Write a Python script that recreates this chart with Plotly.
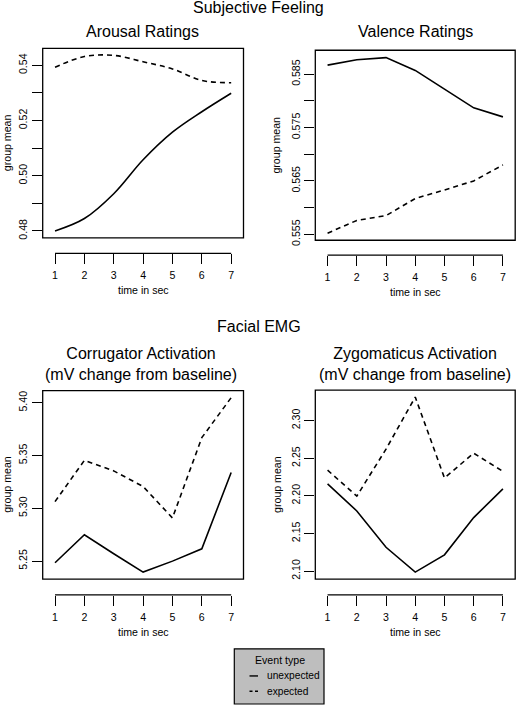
import plotly.graph_objects as go

W, H = 517, 711

# ---------------- data ----------------
time_sec = [1, 2, 3, 4, 5, 6, 7]

arousal_unexpected = [0.4800, 0.4845, 0.4935, 0.5058, 0.5158, 0.5232, 0.5299]
arousal_expected = [0.5393, 0.5432, 0.5436, 0.5413, 0.5387, 0.5345, 0.5337]

valence_unexpected = [0.5867, 0.5877, 0.5881, 0.5857, 0.5822, 0.5787, 0.5770]
valence_expected = [0.5552, 0.5576, 0.5585, 0.5617, 0.5633, 0.5650, 0.5680]

corrugator_unexpected = [5.2485, 5.2750, 5.2570, 5.2396, 5.2500, 5.2617, 5.3340]
corrugator_expected = [5.3064, 5.3455, 5.3355, 5.3207, 5.2909, 5.3670, 5.4049]

zygomaticus_unexpected = [2.2158, 2.1799, 2.1316, 2.0987, 2.1216, 2.1711, 2.2092]
zygomaticus_expected = [2.2340, 2.1996, 2.2620, 2.3312, 2.2237, 2.2566, 2.2325]

arousal_ticks = [0.48, 0.49, 0.50, 0.51, 0.52, 0.53, 0.54]
arousal_ticktext = ["0.48", "", "0.50", "", "0.52", "", "0.54"]
valence_ticks = [0.555, 0.560, 0.565, 0.570, 0.575, 0.580, 0.585]
valence_ticktext = ["0.555", "", "0.565", "", "0.575", "", "0.585"]
corrugator_ticks = [5.25, 5.30, 5.35, 5.40]
corrugator_ticktext = ["5.25", "5.30", "5.35", "5.40"]
zygomaticus_ticks = [2.10, 2.15, 2.20, 2.25, 2.30]
zygomaticus_ticktext = ["2.10", "2.15", "2.20", "2.25", "2.30"]

group_labels = ["unexpected", "expected"]

FONT = "Liberation Sans, Arial, Helvetica, sans-serif"
SMALL = 10.6
BIG = 16


def px(x):
    return x / W


def py(y):
    return 1 - y / H


# panel boxes in pixels: (left, right, top, bottom), x-axis-line y
panels = [
    dict(box=(42.7, 243.5, 48.8, 240.0), axis_y=255.5, yr=[0.47746, 0.54614],
         ticks=arousal_ticks, ticktext=arousal_ticktext,
         u=arousal_unexpected, e=arousal_expected, shape="spline"),
    dict(box=(315.3, 515.2, 50.7, 242.3), axis_y=257.3, yr=[0.55388, 0.58948],
         ticks=valence_ticks, ticktext=valence_ticktext,
         u=valence_unexpected, e=valence_expected, shape="linear"),
    dict(box=(42.7, 243.5, 394.0, 584.0), axis_y=600.0, yr=[5.2330, 5.4115],
         ticks=corrugator_ticks, ticktext=corrugator_ticktext,
         u=corrugator_unexpected, e=corrugator_expected, shape="linear"),
    dict(box=(315.3, 515.2, 393.5, 584.0), axis_y=600.0, yr=[2.0894, 2.3403],
         ticks=zygomaticus_ticks, ticktext=zygomaticus_ticktext,
         u=zygomaticus_unexpected, e=zygomaticus_expected, shape="linear"),
]

XR = [0.58, 7.42]

fig = go.Figure()
shapes = []
annotations = []

for i, p in enumerate(panels):
    n = "" if i == 0 else str(i + 1)
    xa, ya = "x" + n, "y" + n
    l, r, t, b = p["box"]
    fig.add_trace(go.Scatter(x=time_sec, y=p["u"], mode="lines", xaxis=xa, yaxis=ya,
                             name=group_labels[0], showlegend=False,
                             line=dict(color="black", width=1.6, shape=p["shape"])))
    fig.add_trace(go.Scatter(x=time_sec, y=p["e"], mode="lines", xaxis=xa, yaxis=ya,
                             name=group_labels[1], showlegend=False,
                             line=dict(color="black", width=1.6, dash="5px,4px",
                                       shape=p["shape"])))
    fig.layout["xaxis" + n] = dict(
        domain=[px(l), px(r)], range=XR, anchor="free", position=py(p["axis_y"]),
        showgrid=False, zeroline=False, showline=False,
        tickmode="array", tickvals=time_sec, ticktext=[str(v) for v in time_sec],
        ticks="outside", ticklen=10, tickwidth=1.2, tickcolor="black",
        ticklabelstandoff=2,
        tickfont=dict(family=FONT, size=SMALL, color="black"),
    )
    fig.layout["yaxis" + n] = dict(
        domain=[py(b), py(t)], range=p["yr"], anchor=xa,
        showgrid=False, zeroline=False, showline=False,
        tickmode="array", tickvals=p["ticks"], ticktext=p["ticktext"],
        ticks="outside", ticklen=10, tickwidth=1.2, tickcolor="black",
        tickangle=-90, tickfont=dict(family=FONT, size=SMALL, color="black"),
    )
    # box
    shapes.append(dict(type="rect", xref=xa + " domain", yref=ya + " domain",
                       x0=0, x1=1, y0=0, y1=1, line=dict(color="black", width=1.3)))
    # separate x axis line from 1 to 7
    shapes.append(dict(type="line", xref=xa, yref="paper", x0=time_sec[0], x1=time_sec[-1],
                       y0=py(p["axis_y"]), y1=py(p["axis_y"]),
                       line=dict(color="black", width=1.2)))
    # axis titles
    annotations.append(dict(text="time in sec", x=px((l + r) / 2), y=py(p["axis_y"] + 37),
                            xref="paper", yref="paper", showarrow=False,
                            xanchor="center", yanchor="middle",
                            font=dict(family=FONT, size=SMALL, color="black")))
    annotations.append(dict(text="group mean", x=px(max(l - 39, 7.0)), y=py((t + b) / 2),
                            xref="paper", yref="paper", showarrow=False, textangle=-90,
                            xanchor="center", yanchor="middle",
                            font=dict(family=FONT, size=SMALL, color="black")))

# titles
titles = [
    ("Subjective Feeling", 258.5, 8),
    ("Arousal Ratings", 142.5, 32),
    ("Valence Ratings", 415.3, 32),
    ("Facial EMG", 258.5, 329),
    ("Corrugator Activation<br>(mV change from baseline)", 141, 367.5),
    ("Zygomaticus Activation<br>(mV change from baseline)", 415.3, 367.5),
]
for txt, x, y in titles:
    annotations.append(dict(text=txt, x=px(x), y=py(y), xref="paper", yref="paper",
                            showarrow=False, xanchor="center", yanchor="middle",
                            font=dict(family=FONT, size=BIG, color="black")))

# legend box
shapes.append(dict(type="rect", xref="paper", yref="paper",
                   x0=px(234.3), x1=px(324), y0=py(710), y1=py(654.3),
                   fillcolor="#bebebe", line=dict(color="black", width=1.2)))
annotations.append(dict(text="Event type", x=px(280), y=py(665.5), xref="paper", yref="paper",
                        showarrow=False, xanchor="center", yanchor="middle",
                        font=dict(family=FONT, size=SMALL, color="black")))
for j, (lab, yy, dash) in enumerate([(group_labels[0], 681.7, "solid"),
                                      (group_labels[1], 697.2, "3px,2.5px")]):
    shapes.append(dict(type="line", xref="paper", yref="paper",
                       x0=px(249.5), x1=px(258), y0=py(yy), y1=py(yy),
                       line=dict(color="black", width=1.4, dash=dash)))
    annotations.append(dict(text=lab, x=px(265.0), y=py(yy), xref="paper", yref="paper",
                            showarrow=False, xanchor="left", yanchor="middle",
                            font=dict(family=FONT, size=10.2, color="black")))

fig.update_layout(
    width=W, height=H,
    margin=dict(l=0, r=0, t=0, b=0),
    paper_bgcolor="white", plot_bgcolor="white",
    shapes=shapes, annotations=annotations,
    showlegend=False,
    font=dict(family=FONT, color="black"),
)

fig.write_html(
    "out.html",
    config={"displayModeBar": False},
    post_script="document.body.style.margin='0';document.body.style.overflow='hidden';",
)
